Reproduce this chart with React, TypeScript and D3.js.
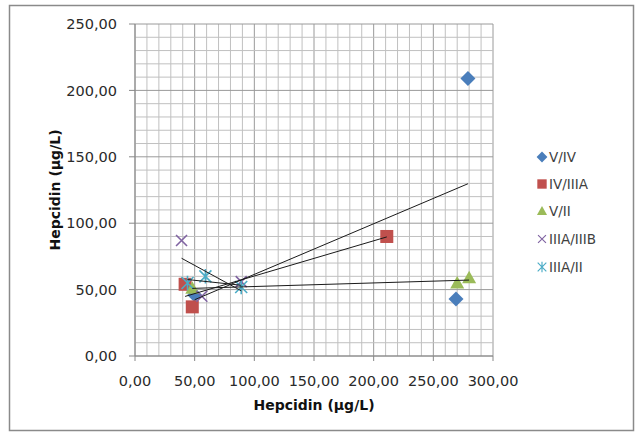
import React from "react";
import * as d3 from "d3";

const W = 641;
const H = 436;

// series: [x, y] pairs
const seriesNames = ["V/IV", "IV/IIIA", "V/II", "IIIA/IIIB", "IIIA/II"];
const seriesColors = ["#4A7EBB", "#C0504D", "#9BBB59", "#8064A2", "#4BACC6"];
const seriesShapes = ["diamond", "square", "triangle", "x", "star"];

const vIV = [[50, 46], [269, 43], [279, 209]];
const ivIIIA = [[42, 54], [48, 37], [211, 90]];
const vII = [[48, 51], [270, 55], [280, 59]];
const iiiaIIIB = [[39, 87], [56, 45], [89, 56]];
const iiiaII = [[44, 55], [59, 60], [89, 52]];

const seriesData = [vIV, ivIIIA, vII, iiiaIIIB, iiiaII];

const xTicks = [0, 50, 100, 150, 200, 250, 300];
const yTicks = [0, 50, 100, 150, 200, 250];

const margin = { left: 135, right: W - 493, top: 24, bottom: H - 356 };

const fmt = (v: number) => v.toFixed(2).replace(".", ",");

// least squares fit, ends at min / max x of the series
const trend = (pts: number[][]) => {
  const mx = d3.mean(pts, (d) => d[0]) as number;
  const my = d3.mean(pts, (d) => d[1]) as number;
  const sxy = d3.sum(pts, (d) => (d[0] - mx) * (d[1] - my));
  const sxx = d3.sum(pts, (d) => (d[0] - mx) ** 2);
  const b = sxy / sxx;
  const a = my - b * mx;
  const [x0, x1] = d3.extent(pts, (d) => d[0]) as [number, number];
  return [[x0, a + b * x0], [x1, a + b * x1]];
};

const Marker: React.FC<{ shape: string; color: string; x: number; y: number; k?: number }> = ({
  shape,
  color,
  x,
  y,
  k = 1,
}) => {
  if (shape === "diamond") {
    const s = 7.5 * k;
    return <path d={`M${x},${y - s}L${x + s},${y}L${x},${y + s}L${x - s},${y}Z`} fill={color} />;
  }
  if (shape === "square") {
    const s = 6.5 * k;
    return <rect x={x - s} y={y - s} width={s * 2} height={s * 2} fill={color} />;
  }
  if (shape === "triangle") {
    const s = 7 * k;
    return <path d={`M${x},${y - s}L${x + s},${y + s * 0.8}L${x - s},${y + s * 0.8}Z`} fill={color} />;
  }
  if (shape === "x") {
    const s = 5.5 * k;
    return (
      <path
        d={`M${x - s},${y - s}L${x + s},${y + s}M${x - s},${y + s}L${x + s},${y - s}`}
        stroke={color}
        strokeWidth={1.6 * k}
      />
    );
  }
  const s = 6 * k;
  return (
    <path
      d={`M${x - s},${y - s}L${x + s},${y + s}M${x - s},${y + s}L${x + s},${y - s}M${x},${y - s * 1.2}L${x},${y + s * 1.2}`}
      stroke={color}
      strokeWidth={1.6 * k}
    />
  );
};

export default function App() {
  const x = d3.scaleLinear().domain([0, 300]).range([margin.left, W - margin.right]);
  const y = d3.scaleLinear().domain([0, 250]).range([H - margin.bottom, margin.top]);

  const xGrid = d3.range(0, 301, 10);
  const yGrid = d3.range(0, 251, 10);

  const line = d3
    .line<number[]>()
    .x((d) => x(d[0]))
    .y((d) => y(d[1]));

  const legendY = [157, 184, 211, 239, 267];

  return (
    <svg
      width={W}
      height={H}
      style={{ position: "absolute", top: 0, left: 0, background: "#fff" }}
      fontFamily="DejaVu Sans, sans-serif"
    >
      <rect x={9.5} y={5.5} width={624} height={425} fill="#fff" stroke="#8a8a8a" strokeWidth={1.5} />

      {/* grid */}
      {xGrid.map((v) => (
        <line
          key={"gx" + v}
          x1={x(v)}
          x2={x(v)}
          y1={y(0)}
          y2={y(250)}
          stroke={v % 50 === 0 ? "#9a9a9a" : "#c0c0c0"}
          strokeWidth={1}
        />
      ))}
      {yGrid.map((v) => (
        <line
          key={"gy" + v}
          x1={x(0)}
          x2={x(300)}
          y1={y(v)}
          y2={y(v)}
          stroke={v % 50 === 0 ? "#9a9a9a" : "#c0c0c0"}
          strokeWidth={1}
        />
      ))}

      {/* axes */}
      <line x1={x(0)} x2={x(0)} y1={y(0)} y2={y(250)} stroke="#888" />
      <line x1={x(0)} x2={x(300)} y1={y(0)} y2={y(0)} stroke="#888" />
      {yTicks.map((v) => (
        <g key={"yt" + v}>
          <line x1={x(0) - 6} x2={x(0)} y1={y(v)} y2={y(v)} stroke="#888" />
          <text x={x(0) - 18} y={y(v)} dy="0.36em" textAnchor="end" fontSize={14.5} fill="#2a2a2a">
            {fmt(v)}
          </text>
        </g>
      ))}
      {xTicks.map((v) => (
        <g key={"xt" + v}>
          <line x1={x(v)} x2={x(v)} y1={y(0)} y2={y(0) + 5} stroke="#888" />
          <text x={x(v)} y={386} textAnchor="middle" fontSize={14.5} fill="#2a2a2a">
            {fmt(v)}
          </text>
        </g>
      ))}

      {/* markers */}
      {seriesData.map((pts, i) =>
        pts.map((d, j) => (
          <Marker key={i + "-" + j} shape={seriesShapes[i]} color={seriesColors[i]} x={x(d[0])} y={y(d[1])} />
        ))
      )}

      {/* linear trendlines */}
      {seriesData.map((pts, i) => (
        <path key={"tr" + i} d={line(trend(pts)) || ""} fill="none" stroke="#1a1a1a" strokeWidth={1} />
      ))}

      {/* axis titles */}
      <text x={314} y={410} textAnchor="middle" fontSize={14} fontWeight="bold" fill="#111">
        Hepcidin (µg/L)
      </text>
      <text
        transform="translate(60,190) rotate(-90)"
        textAnchor="middle"
        fontSize={14}
        fontWeight="bold"
        fill="#111"
      >
        Hepcidin (µg/L)
      </text>

      {/* legend */}
      {seriesNames.map((name, i) => (
        <g key={"lg" + i}>
          <Marker shape={seriesShapes[i]} color={seriesColors[i]} x={542} y={legendY[i]} k={0.72} />
          <text x={549} y={legendY[i]} dy="0.36em" fontSize={13.5} fill="#404040">
            {name}
          </text>
        </g>
      ))}
    </svg>
  );
}
